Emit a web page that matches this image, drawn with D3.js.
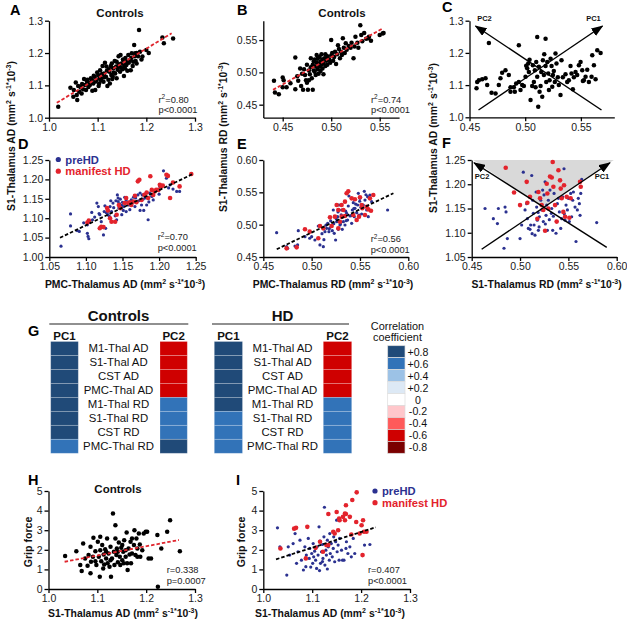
<!DOCTYPE html>
<html><head><meta charset="utf-8">
<script src="https://cdn.jsdelivr.net/npm/d3@7"></script>
<style>body{margin:0;background:#fff}svg{display:block}</style>
</head><body><svg id="c" width="627" height="622"></svg>
<script>
// ---------------- DATA ----------------
// A: Controls, PMC-Thalamus AD (x) vs S1-Thalamus AD (y)
const ctrlA = [[1.019,1.034],[1.044,1.093],[1.050,1.065],[1.051,1.086],[1.055,1.109],[1.057,1.070],[1.058,1.055],[1.060,1.098],[1.062,1.080],[1.065,1.094],[1.067,1.075],[1.068,1.104],[1.070,1.088],[1.072,1.120],[1.074,1.101],[1.076,1.086],[1.078,1.112],[1.079,1.117],[1.081,1.095],[1.083,1.108],[1.084,1.101],[1.086,1.122],[1.088,1.117],[1.089,1.083],[1.091,1.106],[1.092,1.130],[1.094,1.127],[1.095,1.086],[1.096,1.112],[1.098,1.117],[1.099,1.140],[1.101,1.132],[1.102,1.098],[1.103,1.106],[1.104,1.122],[1.105,1.147],[1.107,1.115],[1.108,1.122],[1.109,1.135],[1.110,1.160],[1.112,1.111],[1.113,1.137],[1.114,1.125],[1.115,1.170],[1.117,1.127],[1.118,1.158],[1.119,1.145],[1.120,1.098],[1.122,1.117],[1.123,1.150],[1.124,1.142],[1.125,1.106],[1.127,1.160],[1.128,1.132],[1.129,1.168],[1.130,1.120],[1.131,1.127],[1.132,1.153],[1.133,1.140],[1.135,1.175],[1.136,1.137],[1.138,1.158],[1.139,1.122],[1.139,1.173],[1.141,1.148],[1.142,1.158],[1.143,1.190],[1.144,1.165],[1.146,1.142],[1.147,1.194],[1.148,1.155],[1.149,1.168],[1.151,1.150],[1.152,1.180],[1.153,1.178],[1.154,1.129],[1.155,1.162],[1.156,1.153],[1.157,1.185],[1.159,1.163],[1.160,1.172],[1.161,1.145],[1.163,1.194],[1.164,1.170],[1.166,1.178],[1.168,1.147],[1.169,1.185],[1.170,1.199],[1.172,1.160],[1.173,1.173],[1.175,1.225],[1.176,1.190],[1.177,1.199],[1.178,1.175],[1.180,1.168],[1.180,1.200],[1.183,1.190],[1.185,1.271],[1.187,1.204],[1.190,1.180],[1.192,1.189],[1.200,1.209],[1.205,1.200],[1.233,1.248],[1.236,1.230],[1.255,1.245]];
const fitA = [[1.016,1.046],[1.252,1.261]];

// B: Controls, PMC-Thalamus RD (x) vs S1-Thalamus RD (y)
const ctrlB = [[0.441,0.487],[0.442,0.469],[0.446,0.466],[0.450,0.492],[0.451,0.488],[0.450,0.477],[0.454,0.477],[0.458,0.483],[0.463,0.523],[0.463,0.474],[0.465,0.494],[0.466,0.487],[0.468,0.506],[0.469,0.479],[0.470,0.498],[0.471,0.473],[0.472,0.505],[0.473,0.496],[0.474,0.488],[0.475,0.484],[0.475,0.512],[0.476,0.473],[0.477,0.488],[0.477,0.503],[0.478,0.497],[0.479,0.522],[0.479,0.508],[0.480,0.491],[0.481,0.473],[0.481,0.512],[0.482,0.517],[0.482,0.503],[0.483,0.501],[0.483,0.520],[0.484,0.496],[0.484,0.509],[0.485,0.515],[0.485,0.527],[0.486,0.505],[0.486,0.521],[0.487,0.498],[0.487,0.513],[0.488,0.509],[0.488,0.524],[0.489,0.502],[0.489,0.517],[0.490,0.512],[0.490,0.528],[0.491,0.506],[0.491,0.520],[0.492,0.514],[0.492,0.497],[0.493,0.522],[0.494,0.510],[0.494,0.528],[0.495,0.518],[0.496,0.512],[0.496,0.525],[0.497,0.520],[0.498,0.520],[0.499,0.515],[0.500,0.550],[0.500,0.526],[0.501,0.530],[0.502,0.518],[0.503,0.524],[0.504,0.532],[0.505,0.513],[0.506,0.528],[0.507,0.542],[0.508,0.536],[0.509,0.522],[0.510,0.532],[0.511,0.527],[0.512,0.553],[0.513,0.538],[0.514,0.530],[0.515,0.545],[0.516,0.535],[0.518,0.541],[0.520,0.538],[0.521,0.546],[0.523,0.522],[0.524,0.540],[0.525,0.555],[0.527,0.546],[0.528,0.538],[0.530,0.573],[0.531,0.558],[0.532,0.548],[0.534,0.561],[0.536,0.552],[0.538,0.553],[0.539,0.555],[0.541,0.549],[0.550,0.558],[0.553,0.560],[0.554,0.561]];
const fitB = [[0.440,0.473],[0.553,0.568]];

// C: Controls, S1-Thalamus RD (x) vs S1-Thalamus AD (y)
const ctrlC = [[0.4674,1.231],[0.4943,1.224],[0.5108,1.249],[0.5183,1.244],[0.4563,1.090],[0.4584,1.115],[0.4614,1.118],[0.4569,1.110],[0.4644,1.121],[0.4659,1.100],[0.4698,1.076],[0.4734,1.074],[0.4763,1.100],[0.4778,1.121],[0.4793,1.138],[0.4823,1.146],[0.4853,1.131],[0.4868,1.093],[0.4868,1.079],[0.4898,1.093],[0.4907,1.079],[0.4919,1.105],[0.4943,1.110],[0.4958,1.085],[0.4973,1.100],[0.4988,1.097],[0.5003,1.126],[0.5009,1.160],[0.5018,1.152],[0.5027,1.167],[0.5033,1.141],[0.5039,1.179],[0.5048,1.054],[0.5063,1.097],[0.5069,1.162],[0.5078,1.110],[0.5087,1.146],[0.5093,1.093],[0.5099,1.172],[0.5108,1.126],[0.5117,1.033],[0.5123,1.157],[0.5129,1.079],[0.5138,1.097],[0.5144,1.141],[0.5153,1.064],[0.5159,1.177],[0.5168,1.131],[0.5171,1.196],[0.5183,1.159],[0.5189,1.110],[0.5198,1.172],[0.5207,1.136],[0.5213,1.085],[0.5219,1.115],[0.5228,1.182],[0.5237,1.159],[0.5243,1.095],[0.5249,1.131],[0.5257,1.144],[0.5266,1.110],[0.5272,1.198],[0.5281,1.167],[0.5293,1.124],[0.5302,1.100],[0.5317,1.069],[0.5326,1.177],[0.5338,1.124],[0.5362,1.134],[0.5377,1.110],[0.5392,1.115],[0.5407,1.159],[0.5416,1.136],[0.5428,1.087],[0.5437,1.124],[0.5452,1.141],[0.5467,1.131],[0.5482,1.162],[0.5497,1.172],[0.5512,1.146],[0.5518,1.113],[0.5527,1.115],[0.5542,1.126],[0.5557,1.148],[0.5572,1.110],[0.5596,1.126],[0.5602,1.193],[0.5617,1.162],[0.5632,1.118],[0.5647,1.208],[0.5677,1.200]];
const pcArrowsC = [{name:"PC1",from:[0.4581,1.0227],to:[0.5694,1.2835]},{name:"PC2",from:[0.5685,1.0227],to:[0.4554,1.2835]}];

// D: HD, PMC-Thalamus AD (x) vs S1-Thalamus AD (y)
const preD = [[1.066,1.028],[1.079,1.111],[1.079,1.080],[1.088,1.068],[1.091,1.066],[1.102,1.061],[1.103,1.053],[1.104,1.047],[1.102,1.083],[1.105,1.089],[1.109,1.096],[1.112,1.103],[1.115,1.139],[1.117,1.130],[1.119,1.109],[1.121,1.091],[1.124,1.057],[1.125,1.117],[1.127,1.074],[1.130,1.109],[1.133,1.130],[1.135,1.117],[1.137,1.139],[1.140,1.106],[1.142,1.096],[1.143,1.160],[1.144,1.143],[1.145,1.126],[1.147,1.149],[1.149,1.109],[1.150,1.141],[1.152,1.130],[1.153,1.154],[1.155,1.117],[1.155,1.147],[1.158,1.134],[1.160,1.122],[1.162,1.147],[1.165,1.154],[1.167,1.130],[1.169,1.143],[1.171,1.160],[1.174,1.120],[1.176,1.134],[1.178,1.149],[1.179,1.120],[1.183,1.134],[1.185,1.096],[1.187,1.165],[1.190,1.156],[1.192,1.147],[1.196,1.173],[1.201,1.182],[1.206,1.222],[1.210,1.203],[1.215,1.186],[1.219,1.175],[1.224,1.169],[1.228,1.169],[1.118,1.112],[1.126,1.132],[1.131,1.118],[1.138,1.127],[1.141,1.145],[1.146,1.137],[1.151,1.120],[1.157,1.141],[1.163,1.138],[1.168,1.152],[1.172,1.145],[1.177,1.160],[1.181,1.152],[1.186,1.142],[1.108,1.115],[1.097,1.088],[1.132,1.105],[1.144,1.152],[1.160,1.135],[1.200,1.162],[1.174,1.165],[1.149,1.133],[1.128,1.114],[1.213,1.178],[1.134,1.145]];
const manD = [[1.102,1.089],[1.104,1.094],[1.121,1.078],[1.119,1.074],[1.124,1.077],[1.129,1.126],[1.130,1.120],[1.133,1.100],[1.135,1.091],[1.140,1.091],[1.142,1.109],[1.145,1.134],[1.147,1.126],[1.153,1.139],[1.155,1.152],[1.158,1.139],[1.160,1.141],[1.162,1.134],[1.165,1.143],[1.167,1.158],[1.169,1.141],[1.171,1.195],[1.173,1.199],[1.176,1.147],[1.180,1.160],[1.183,1.166],[1.185,1.152],[1.188,1.208],[1.190,1.173],[1.192,1.160],[1.194,1.169],[1.196,1.173],[1.199,1.173],[1.201,1.186],[1.203,1.182],[1.205,1.184],[1.210,1.212],[1.212,1.209],[1.215,1.152],[1.219,1.192],[1.228,1.182],[1.244,1.214]];
const fitD = [[1.0646,1.0497],[1.246,1.214]];

// E: HD, PMC-Thalamus RD (x) vs S1-Thalamus RD (y)
const preE = [[0.4638,0.4876],[0.4741,0.466],[0.4752,0.4634],[0.4828,0.467],[0.4855,0.4686],[0.4862,0.4907],[0.4931,0.4814],[0.498,0.479],[0.500,0.4814],[0.5034,0.4763],[0.5069,0.4979],[0.5086,0.4686],[0.5121,0.466],[0.5138,0.4892],[0.5155,0.4943],[0.5166,0.5021],[0.5179,0.4892],[0.520,0.4969],[0.5214,0.4907],[0.5224,0.5227],[0.5234,0.4866],[0.5248,0.4763],[0.5259,0.5046],[0.5269,0.5124],[0.5276,0.4928],[0.5283,0.5304],[0.5293,0.4995],[0.531,0.5227],[0.5317,0.4928],[0.5328,0.5046],[0.5338,0.5134],[0.5345,0.4995],[0.5362,0.5175],[0.5372,0.5072],[0.5379,0.5289],[0.5386,0.5443],[0.5397,0.5134],[0.5414,0.5021],[0.5421,0.5227],[0.5431,0.534],[0.5441,0.5124],[0.5448,0.5253],[0.5466,0.5186],[0.5476,0.5304],[0.5483,0.5485],[0.549,0.5149],[0.550,0.5407],[0.551,0.5268],[0.5517,0.5165],[0.5534,0.5304],[0.5545,0.5515],[0.5552,0.5381],[0.5569,0.5227],[0.5579,0.5433],[0.5586,0.5124],[0.5603,0.5459],[0.5621,0.5356],[0.5786,0.5227],[0.5148,0.4992],[0.5197,0.5058],[0.5254,0.5093],[0.5306,0.5152],[0.5352,0.5208],[0.5409,0.5141],[0.5455,0.5318],[0.5298,0.5012],[0.5183,0.4938],[0.5107,0.4861],[0.5358,0.5061],[0.5497,0.5362],[0.5562,0.5463],[0.5436,0.5248],[0.5273,0.5196],[0.5229,0.5015],[0.5127,0.4768]];
const manE = [[0.4741,0.4634],[0.4845,0.4649],[0.4931,0.4928],[0.498,0.4892],[0.5069,0.4789],[0.5086,0.4979],[0.5121,0.4943],[0.519,0.5113],[0.5207,0.4979],[0.5241,0.5124],[0.5276,0.4943],[0.5293,0.5046],[0.531,0.5304],[0.5328,0.5227],[0.5345,0.5356],[0.5362,0.5485],[0.5379,0.5515],[0.5414,0.5407],[0.5431,0.5149],[0.5448,0.5392],[0.5466,0.5072],[0.549,0.5124],[0.550,0.5423],[0.5517,0.5304],[0.5524,0.5253],[0.5552,0.5149],[0.5569,0.5278],[0.5586,0.5237],[0.5603,0.5407],[0.5614,0.5216],[0.5638,0.5459],[0.5259,0.5304],[0.5276,0.5227],[0.531,0.5124],[0.5345,0.5134]];
const fitE = [[0.4639,0.4619],[0.5846,0.5486]];

// F: HD, S1-Thalamus RD (x) vs S1-Thalamus AD (y)
const preF = [[0.4638,1.150],[0.4724,1.129],[0.4766,1.119],[0.4776,1.150],[0.4845,1.153],[0.4855,1.143],[0.4834,1.068],[0.4869,1.088],[0.500,1.088],[0.5017,1.116],[0.5034,1.225],[0.5052,1.147],[0.5069,1.160],[0.5076,1.129],[0.5086,1.109],[0.5103,1.107],[0.511,1.116],[0.5121,1.218],[0.5131,1.167],[0.5138,1.140],[0.5145,1.116],[0.5155,1.095],[0.5166,1.184],[0.5172,1.153],[0.5179,1.126],[0.519,1.105],[0.520,1.133],[0.5214,1.167],[0.5224,1.147],[0.5234,1.188],[0.5241,1.123],[0.5248,1.178],[0.5259,1.205],[0.5269,1.136],[0.5276,1.157],[0.5283,1.105],[0.5293,1.167],[0.5303,1.127],[0.531,1.188],[0.5328,1.150],[0.5338,1.105],[0.5345,1.134],[0.5352,1.181],[0.5362,1.157],[0.5372,1.099],[0.5379,1.123],[0.5386,1.160],[0.5397,1.171],[0.5407,1.143],[0.5421,1.109],[0.5431,1.129],[0.5441,1.174],[0.5455,1.232],[0.5466,1.126],[0.5476,1.157],[0.549,1.147],[0.550,1.171],[0.551,1.123],[0.5524,1.181],[0.5534,1.133],[0.5545,1.167],[0.5552,1.184],[0.5569,1.153],[0.5579,1.082],[0.5593,1.147],[0.5603,1.171],[0.5614,1.160],[0.5621,1.136],[0.5628,1.181],[0.5638,1.210],[0.5793,1.121],[0.5125,1.098],[0.5197,1.112],[0.5262,1.118],[0.5324,1.140],[0.5187,1.142],[0.5458,1.139]];
const manF = [[0.4852,1.234],[0.4938,1.183],[0.500,1.157],[0.5069,1.205],[0.5076,1.162],[0.5103,1.174],[0.5179,1.129],[0.519,1.184],[0.5207,1.171],[0.5224,1.157],[0.5241,1.147],[0.5259,1.104],[0.5276,1.201],[0.5283,1.181],[0.5293,1.150],[0.531,1.216],[0.5328,1.214],[0.5338,1.246],[0.5345,1.195],[0.5362,1.157],[0.5379,1.123],[0.5397,1.229],[0.5414,1.208],[0.5421,1.191],[0.5431,1.171],[0.5448,1.143],[0.5455,1.198],[0.5466,1.133],[0.5483,1.174],[0.551,1.131],[0.5524,1.171],[0.5621,1.205],[0.5628,1.195]];
const pcArrowsF = [{name:"PC1",from:[0.4603,1.0659],to:[0.5930,1.2444]},{name:"PC2",from:[0.5897,1.0700],to:[0.4524,1.2444]}];
const shadeF = [[0.4515,1.25],[0.5970,1.25],[0.5247,1.1525]];

// G: heatmap of PC loadings
const hmRows = ["M1-Thal AD","S1-Thal AD","CST AD","PMC-Thal AD","M1-Thal RD","S1-Thal RD","CST RD","PMC-Thal RD"];
const ctrlPC1 = [0.8,0.8,0.8,0.8,0.8,0.8,0.8,0.6];
const ctrlPC2 = [-0.6,-0.6,-0.6,-0.6,0.6,0.6,0.6,0.8];
const hdPC1 = [0.8,0.8,0.8,0.8,0.8,0.6,0.6,0.6];
const hdPC2 = [-0.6,-0.6,-0.6,-0.6,0.6,0.6,0.6,0.6];
const legendVals = [0.8,0.6,0.4,0.2,0,-0.2,-0.4,-0.6,-0.8];
const legendLabels = ["+0.8","+0.6","+0.4","+0.2","0","-0.2","-0.4","-0.6","-0.8"];

// H: Controls, S1-Thalamus AD (x) vs grip force (y)
const ctrlH = [[1.034,1.68],[1.057,1.93],[1.065,1.22],[1.068,0.92],[1.071,2.32],[1.075,1.56],[1.080,1.19],[1.082,1.73],[1.086,0.80],[1.087,1.39],[1.091,1.64],[1.092,2.61],[1.096,1.93],[1.098,1.22],[1.101,2.41],[1.103,1.64],[1.105,0.63],[1.106,1.98],[1.108,1.42],[1.110,2.24],[1.112,1.05],[1.113,1.76],[1.114,1.25],[1.116,2.03],[1.118,1.56],[1.120,2.58],[1.121,1.31],[1.123,1.81],[1.125,1.14],[1.127,2.15],[1.128,0.63],[1.130,1.56],[1.132,3.85],[1.134,1.90],[1.135,1.22],[1.137,3.25],[1.137,2.58],[1.139,1.73],[1.140,2.07],[1.142,1.36],[1.144,2.37],[1.146,1.64],[1.147,1.22],[1.149,2.10],[1.151,1.47],[1.153,1.90],[1.154,1.31],[1.155,2.49],[1.158,1.64],[1.160,2.88],[1.161,1.31],[1.162,0.97],[1.164,2.07],[1.166,1.76],[1.168,2.41],[1.169,1.31],[1.171,1.81],[1.175,2.24],[1.176,3.00],[1.178,1.73],[1.180,2.58],[1.182,2.07],[1.185,2.83],[1.187,2.27],[1.188,1.64],[1.192,1.98],[1.195,2.83],[1.199,2.92],[1.202,2.92],[1.205,1.56],[1.210,1.56],[1.223,2.75],[1.224,0.12],[1.231,2.07],[1.243,2.92],[1.249,3.51],[1.269,1.93],[1.096,1.42],[1.118,1.90],[1.127,1.47],[1.142,1.90],[1.151,2.24],[1.171,2.58],[1.182,1.64],[1.158,1.98],[1.086,2.15],[1.106,2.66]];
const fitH = [[1.033,1.39],[1.267,2.50]];

// I: HD, S1-Thalamus AD (x) vs grip force (y)
const preI = [[1.048,0.71],[1.034,2.15],[1.029,3.12],[1.051,2.15],[1.054,1.73],[1.061,2.32],[1.065,2.83],[1.068,1.31],[1.071,1.90],[1.075,2.49],[1.078,1.47],[1.082,0.97],[1.085,2.15],[1.087,1.14],[1.088,1.73],[1.092,2.58],[1.094,1.56],[1.095,2.07],[1.099,1.81],[1.101,1.31],[1.102,2.32],[1.103,1.64],[1.105,1.93],[1.107,1.47],[1.109,1.05],[1.110,2.15],[1.112,1.73],[1.114,3.17],[1.116,2.44],[1.117,1.31],[1.119,1.90],[1.121,2.27],[1.122,1.56],[1.124,2.66],[1.126,1.22],[1.128,1.98],[1.129,1.73],[1.131,2.49],[1.133,2.15],[1.135,1.47],[1.136,2.83],[1.137,1.81],[1.139,2.32],[1.141,1.64],[1.143,2.07],[1.144,2.66],[1.146,1.39],[1.148,2.41],[1.150,3.51],[1.151,1.90],[1.153,2.24],[1.155,1.47],[1.156,2.58],[1.160,1.98],[1.162,1.47],[1.165,1.47],[1.169,2.07],[1.170,2.41],[1.173,1.81],[1.177,2.15],[1.180,1.64],[1.184,2.58],[1.207,2.24],[1.218,2.27],[1.187,1.81],[1.125,4.17],[1.097,1.12],[1.115,0.94],[1.131,1.02],[1.121,1.40]];
const manI = [[1.035,2.07],[1.063,3.08],[1.067,3.12],[1.087,1.56],[1.090,3.17],[1.107,2.10],[1.116,2.41],[1.122,1.90],[1.129,2.24],[1.133,2.24],[1.143,2.92],[1.146,2.83],[1.150,3.93],[1.153,3.00],[1.155,3.59],[1.156,3.51],[1.163,3.68],[1.167,3.85],[1.167,3.51],[1.177,3.68],[1.180,2.78],[1.190,3.42],[1.197,2.83],[1.201,3.25],[1.204,3.51],[1.206,2.92],[1.211,2.92],[1.203,1.73],[1.191,4.93],[1.182,4.54],[1.169,4.27],[1.133,3.83],[1.169,3.83]];
const fitI = [[1.026,1.515],[1.230,3.15]];

// tick values
const ticksAD = [1.0,1.1,1.2,1.3];
const ticksRDc = [0.45,0.50,0.55];
const ticksADhd = [1.00,1.05,1.10,1.15,1.20,1.25];
const ticksPMCADhd = [1.05,1.10,1.15,1.20,1.25];
const ticksRDhd = [0.45,0.50,0.55,0.60];
const ticksS1ADhdF = [1.05,1.10,1.15,1.20,1.25];
const ticksGrip = [0,1,2,3,4,5];

// ---------------- DRAW ----------------
const FONT = '"Liberation Sans", Arial, Helvetica, sans-serif';
const BLUE = '#2b3190', RED = '#e3232c', FITRED = '#e0262e';
const svg = d3.select('#c');
svg.append('rect').attr('width',627).attr('height',622).attr('fill','#fff');
const defs = svg.append('defs');
defs.append('marker').attr('id','ah').attr('viewBox','0 0 12 9').attr('refX',11).attr('refY',4.5)
  .attr('markerWidth',12).attr('markerHeight',9).attr('markerUnits','userSpaceOnUse').attr('orient','auto')
  .append('path').attr('d','M0,0L12,4.5L0,9z').attr('fill','#000');

function makePanel(o){
  const x = d3.scaleLinear(o.xd, o.xr), y = d3.scaleLinear(o.yd, o.yr);
  const g = svg.append('g');
  const under = g.append('g');
  const ax = d3.axisBottom(x).tickValues(o.xt).tickFormat(d3.format(o.xf)).tickSize(4).tickSizeOuter(0).tickPadding(2);
  const ay = d3.axisLeft(y).tickValues(o.yt).tickFormat(d3.format(o.yf)).tickSize(4).tickSizeOuter(0).tickPadding(2);
  g.append('g').attr('transform',`translate(0,${o.yr[0]})`).call(ax);
  g.append('g').attr('transform',`translate(${o.xr[0]},0)`).call(ay);
  g.selectAll('.domain, .tick line').attr('stroke','#000').attr('stroke-width',1.3);
  g.selectAll('.tick text').attr('font-size',10.5).attr('font-family',FONT).attr('fill','#1a1a1a');
  return {g, under, x, y};
}
function dots(p, data, r, color){
  p.g.append('g').selectAll('circle').data(data).join('circle')
    .attr('cx',d=>p.x(d[0])).attr('cy',d=>p.y(d[1])).attr('r',r).attr('fill',color);
}
function fit(p, f, color){
  p.g.append('line').attr('x1',p.x(f[0][0])).attr('y1',p.y(f[0][1])).attr('x2',p.x(f[1][0])).attr('y2',p.y(f[1][1]))
    .attr('stroke',color).attr('stroke-width',1.8).attr('stroke-dasharray','3.5,2');
}
function txt(x,y,s,size,opts={}){
  const t = svg.append('text').attr('x',x).attr('y',y).attr('font-family',FONT).attr('font-size',size)
    .attr('fill',opts.fill||'#111').attr('font-weight',opts.bold?'bold':'normal').attr('text-anchor',opts.anchor||'start');
  t.text(s); return t;
}
function stat(x,y,label,sup,val,p){
  const t = svg.append('text').attr('x',x).attr('y',y).attr('font-family',FONT).attr('font-size',9.3).attr('fill','#222');
  t.append('tspan').text(label);
  if(sup){ t.append('tspan').attr('dy',-3.5).attr('font-size',6.5).text(sup); t.append('tspan').attr('dy',3.5).text(val); }
  else t.append('tspan').text(val);
  svg.append('text').attr('x',x).attr('y',y+10.5).attr('font-family',FONT).attr('font-size',9.3).attr('fill','#222').text(p);
}
function unitLabel(x,y,prefix,rot){
  const t = svg.append('text').attr('font-family',FONT).attr('font-weight','bold').attr('font-size',10.4)
    .attr('text-anchor','middle').attr('fill','#111')
    .attr('transform', rot ? `translate(${x},${y}) rotate(-90)` : `translate(${x},${y})`);
  t.append('tspan').text(prefix+' (mm');
  t.append('tspan').attr('dy',-4).attr('font-size',7).text('2');
  t.append('tspan').attr('dy',4).text(' s');
  t.append('tspan').attr('dy',-4).attr('font-size',7).text('-1*');
  t.append('tspan').attr('dy',4).text('10');
  t.append('tspan').attr('dy',-4).attr('font-size',7).text('-3');
  t.append('tspan').attr('dy',4).text(')');
}
function arrows(p, arr, labelOff){
  arr.forEach(a=>{
    p.g.append('line').attr('x1',p.x(a.from[0])).attr('y1',p.y(a.from[1])).attr('x2',p.x(a.to[0])).attr('y2',p.y(a.to[1]))
      .attr('stroke','#000').attr('stroke-width',1.4).attr('marker-end','url(#ah)');
    const tx = p.x(a.to[0]) + (a.name==='PC1' ? -labelOff[0] : labelOff[0]);
    const ty = p.y(a.to[1]) + labelOff[1];
    p.g.append('text').attr('x',tx).attr('y',ty).attr('text-anchor','middle').attr('font-family',FONT)
      .attr('font-size',7.5).attr('font-weight','bold').attr('fill','#111').text(a.name);
  });
}
function legendHD(x,y){
  svg.append('circle').attr('cx',x).attr('cy',y).attr('r',2.6).attr('fill',BLUE);
  txt(x+7,y+4,'preHD',11.2,{bold:true,fill:BLUE});
  svg.append('circle').attr('cx',x).attr('cy',y+11.7).attr('r',2.6).attr('fill',RED);
  txt(x+7,y+15.7,'manifest HD',11.2,{bold:true,fill:RED});
}

// Panel A
const pA = makePanel({xd:[1.0,1.3],xr:[49,195],yd:[1.0,1.3],yr:[117.7,20.7],xt:ticksAD,yt:ticksAD,xf:'.1f',yf:'.1f'});
dots(pA, ctrlA, 2.25, '#000'); fit(pA, fitA, FITRED);
stat(158.5,102.5,'r','2','=0.80','p<0.0001');
txt(120,17,'Controls',11.5,{bold:true,anchor:'middle'});

// Panel B
const pB = makePanel({xd:[0.43,0.57],xr:[263.3,399.1],yd:[0.43,0.58],yr:[117.6,20.7],xt:ticksRDc,yt:ticksRDc,xf:'.2f',yf:'.2f'});
dots(pB, ctrlB, 2.25, '#000'); fit(pB, fitB, FITRED);
stat(371,102.5,'r','2','=0.74','p<0.0001');
txt(342,17,'Controls',11.5,{bold:true,anchor:'middle'});

// Panel C
const pC = makePanel({xd:[0.45,0.58],xr:[469.5,614.3],yd:[1.0,1.3],yr:[117.3,20.7],xt:ticksRDc,yt:ticksAD,xf:'.2f',yf:'.1f'});
dots(pC, ctrlC, 2.25, '#000');
arrows(pC, pcArrowsC, [9,-5]);

// Panel D
const pD = makePanel({xd:[1.05,1.25],xr:[49.3,195.7],yd:[1.0,1.25],yr:[257,160],xt:ticksPMCADhd,yt:ticksADhd,xf:'.2f',yf:'.2f'});
dots(pD, preD, 1.6, BLUE); dots(pD, manD, 2.3, RED); fit(pD, fitD, '#000');
stat(157.7,240,'r','2','=0.70','p<0.0001');
legendHD(58.3,159.5);

// Panel E
const pE = makePanel({xd:[0.45,0.60],xr:[263.3,408.3],yd:[0.45,0.60],yr:[257,160],xt:ticksRDhd,yt:ticksRDhd,xf:'.2f',yf:'.2f'});
dots(pE, preE, 1.6, BLUE); dots(pE, manE, 2.3, RED); fit(pE, fitE, '#000');
stat(370.7,242,'r','2','=0.56','p<0.0001');

// Panel F
const pF = makePanel({xd:[0.45,0.60],xr:[471.7,616.7],yd:[1.05,1.25],yr:[257,160],xt:ticksRDhd,yt:ticksS1ADhdF,xf:'.2f',yf:'.2f'});
pF.under.append('path').attr('d', d3.line().x(d=>pF.x(d[0])).y(d=>pF.y(d[1]))(shadeF)+'Z').attr('fill','#d9d9d9');
dots(pF, preF, 1.6, BLUE); dots(pF, manF, 2.3, RED);
arrows(pF, pcArrowsF, [8,16]);

// Panel H
const pH = makePanel({xd:[1.0,1.3],xr:[48.5,195],yd:[0,5],yr:[589,491],xt:ticksAD,yt:ticksGrip,xf:'.1f',yf:'d'});
dots(pH, ctrlH, 2.25, '#000'); fit(pH, fitH, FITRED);
stat(166.7,573,'r','','=0.338','p=0.0007');
txt(118,493,'Controls',11.5,{bold:true,anchor:'middle'});

// Panel I
const pI = makePanel({xd:[1.0,1.3],xr:[263.3,410],yd:[0,5],yr:[589,491],xt:ticksAD,yt:ticksGrip,xf:'.1f',yf:'d'});
dots(pI, preI, 1.6, BLUE); dots(pI, manI, 2.3, RED); fit(pI, fitI, '#000');
stat(368,573,'r','','=0.407','p<0.0001');
legendHD(375,491);

// axis titles
unitLabel(15,136,'S1-Thalamus AD',true);
unitLabel(227,137,'S1-Thalamus RD',true);
unitLabel(437,138,'S1-Thalamus AD',true);
unitLabel(125,288,'PMC-Thalamus AD',false);
unitLabel(333,288,'PMC-Thalamus RD',false);
unitLabel(546.5,288,'S1-Thalamus RD',false);
unitLabel(123,617,'S1-Thalamus AD',false);
unitLabel(330,617,'S1-Thalamus AD',false);
svg.append('text').attr('transform','translate(32,542) rotate(-90)').attr('text-anchor','middle').attr('font-family',FONT).attr('font-weight','bold').attr('font-size',10.6).attr('fill','#111').text('Grip force');
svg.append('text').attr('transform','translate(245,542) rotate(-90)').attr('text-anchor','middle').attr('font-family',FONT).attr('font-weight','bold').attr('font-size',10.6).attr('fill','#111').text('Grip force');

// panel letters
[['A',10,15],['B',237,15],['C',442,12],['D',18,149],['E',237,149],['F',442,148],['G',28,336],['H',28,485],['I',236,485]]
  .forEach(([s,x,y])=>txt(x,y,s,14.5,{bold:true,fill:'#000'}));

// ---- G heatmap ----
const hmColors = ['#204a78','#3273b8','#9cc2e6','#dde9f5','#ffffff','#ffc7cb','#ff5a5a','#cf0000','#7a0000'];
const cScale = d3.scaleOrdinal(legendVals, hmColors);
const rowY = d3.scaleBand(hmRows, [341.5, 453.3]);
function hmCol(x0, x1, vals){
  svg.append('g').selectAll('rect').data(vals).join('rect')
    .attr('x',x0).attr('width',x1-x0).attr('y',(d,i)=>rowY(hmRows[i])).attr('height',rowY.bandwidth())
    .attr('fill',d=>cScale(d)).attr('stroke','rgba(255,255,255,0.28)').attr('stroke-width',0.8);
}
function hmBlock(title, cx, c1, c2, v1, v2, lineX){
  txt(cx,320.5,title,15,{bold:true,anchor:'middle',fill:'#111'});
  svg.append('line').attr('x1',lineX[0]).attr('x2',lineX[1]).attr('y1',324).attr('y2',324).attr('stroke','#222').attr('stroke-width',1.2);
  txt((c1[0]+c1[1])/2,339.5,'PC1',11.5,{bold:true,anchor:'middle',fill:'#111'});
  txt((c2[0]+c2[1])/2,339.5,'PC2',11.5,{bold:true,anchor:'middle',fill:'#111'});
  hmCol(c1[0],c1[1],v1); hmCol(c2[0],c2[1],v2);
  hmRows.forEach((r,i)=>txt(cx, rowY(r)+rowY.bandwidth()/2+4, r, 11.4, {anchor:'middle',fill:'#111'}));
}
hmBlock('Controls', 118.5, [50.7,78.3],[160,187.3], ctrlPC1, ctrlPC2, [49.3,188.3]);
hmBlock('HD', 282.5, [214.3,242.5],[323.3,351.7], hdPC1, hdPC2, [212,349]);

// legend
txt(397.5,330,'Correlation',10.9,{anchor:'middle',fill:'#111'});
txt(397.5,341,'coefficient',10.9,{anchor:'middle',fill:'#111'});
const legY = d3.scaleBand(legendVals.map(String), [345.7, 453.3]);
svg.append('g').selectAll('rect').data(legendVals).join('rect')
  .attr('x',387.7).attr('width',17.3).attr('y',d=>legY(String(d))).attr('height',legY.bandwidth())
  .attr('fill',d=>cScale(d)).attr('stroke','#dcdcdc').attr('stroke-width',0.7);
legendVals.forEach((v,i)=>txt(418, legY(String(v))+legY.bandwidth()/2+4, legendLabels[i], 10.6, {anchor:'middle',fill:'#111'}));
</script></body></html>
